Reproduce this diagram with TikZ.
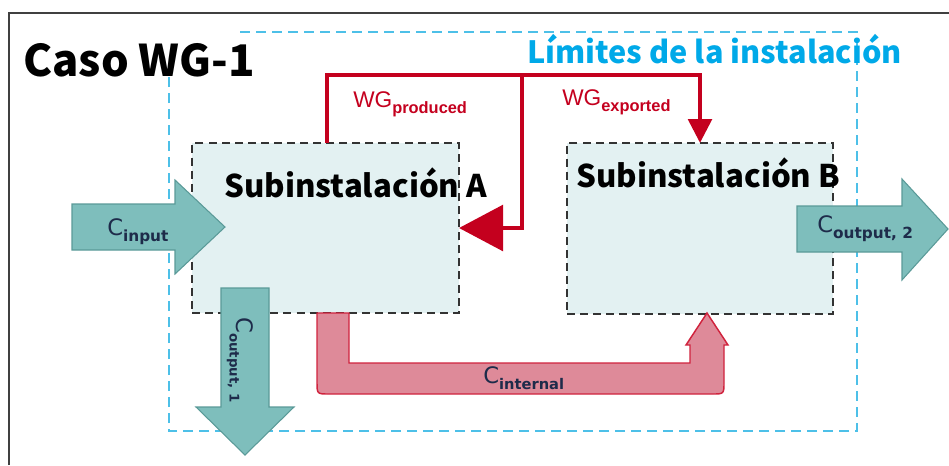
\documentclass[tikz,border=0pt]{standalone}
\usepackage{fontspec}
\usepackage{graphicx}
\setmainfont{Liberation Sans}
\newfontfamily\jpfont{Noto Sans CJK JP}
\newfontfamily\dvfont{DejaVu Sans}
\usetikzlibrary{arrows.meta}
\definecolor{tealfill}{HTML}{7EBEBC}
\definecolor{tealline}{HTML}{5A9A98}
\definecolor{pinkfill}{HTML}{DE8A99}
\definecolor{pinkline}{HTML}{D0233D}
\definecolor{wgred}{HTML}{C4001E}
\definecolor{cyanline}{HTML}{4DC0E8}
\definecolor{cyantext}{HTML}{00A9E8}
\definecolor{boxfill}{HTML}{E3F1F2}
\definecolor{boxline}{HTML}{333333}
\definecolor{navy}{HTML}{1E2B4A}
\newcommand{\clab}[3]{{\dvfont\fontsize{17}{17}\selectfont C}\raisebox{-5pt}{\dvfont\bfseries\fontsize{#3}{#3}\selectfont #1#2}}
\newcommand{\wglab}[1]{{\fontsize{17}{17}\selectfont WG}\raisebox{-5pt}{\bfseries\fontsize{12.3}{12.3}\selectfont #1}}
\begin{document}
\begin{tikzpicture}[x=0.75pt,y=-0.75pt,
  frame/.style={draw=black!75,line width=1.5pt},
  limits/.style={draw=cyanline,line width=1.5pt,dash pattern=on 7.5pt off 4.5pt},
  subbox/.style={draw=boxline,fill=boxfill,line width=1.4pt,dash pattern=on 6pt off 3.8pt,inner sep=0pt,outer sep=0pt},
  boxlabel/.style={font=\jpfont\bfseries\fontsize{23.4}{23.4}\selectfont,text=black,inner sep=0pt},
  titlelab/.style={font=\jpfont\bfseries\fontsize{32.7}{32.7}\selectfont,text=black,inner sep=0pt},
  limitlab/.style={font=\jpfont\bfseries\fontsize{23}{23}\selectfont,text=cyantext,inner sep=0pt},
  wg/.style={draw=wgred,line width=3.6pt},
  wgtext/.style={text=wgred,inner sep=0pt},
  tealarrow/.style={draw=tealline,fill=tealfill,line width=0.8pt},
  pinkarrow/.style={draw=pinkline,fill=pinkfill,line width=1.1pt},
  ctext/.style={text=navy,inner sep=0pt}
]
\useasboundingbox (0,0) rectangle (949,465);
% outer frame
\draw[frame] (9,465) -- (9,13) -- (949,13);
% installation limits
\draw[limits] (240,32) -- (857,32) -- (857,431) -- (169,431) -- (169,77);
% sub-installations
\node[subbox,minimum width=200.25pt,minimum height=127.5pt] (A) at (325.5,228) {};
\node[subbox,minimum width=199.5pt,minimum height=128.25pt] (B) at (700,228.5) {};
% WG connectors
\coordinate (J) at (522,75);
\draw[wg,-{Triangle[length=18pt,width=17.5pt]}] (A.north -| 327,0) -- (327,75) -| (B.north);
\draw[wg,-{Triangle[length=33pt,width=34pt]}] (J) |- (A.east);
% teal arrows
\draw[tealarrow] (72,204) -- (175,204) -- (175,180) -- (225,227) -- (175,274) -- (175,250) -- (72,250) -- cycle;
\draw[tealarrow] (221,288) -- (269,288) -- (269,407) -- (294,407) -- (245,455) -- (196,407) -- (221,407) -- cycle;
\draw[tealarrow] (797,206) -- (902,206) -- (902,179) -- (948,229) -- (902,280) -- (902,252) -- (797,252) -- cycle;
% internal pink arrow
\draw[pinkarrow] (317,313) -- (317,382) .. controls (317,394) .. (329,394) -- (712,394) .. controls (724,394) .. (724,382) -- (724,345) -- (728,345) -- (707,313) -- (686,345) -- (690,345) -- (690,363) -- (349,363) -- (349,313) -- cycle;
% labels
\node[boxlabel,anchor=base west] (Alab) at (224,197) {Subinstalación A};
\node[boxlabel,anchor=base west] (Blab) at (576,187) {Subinstalación B};
\node[titlelab,anchor=base west] (T) at (23,76) {Caso WG-1};
\node[limitlab,anchor=base west] (L) at (527,63) {Límites de la instalación};
\node[wgtext,anchor=base west] (wgp) at (353,107) {\wglab{produced}};
\node[wgtext,anchor=base west] (wge) at (562,105) {\wglab{exported}};
\node[ctext,anchor=base west] (cin) at (107,235) {\clab{input}{}{11.5}};
\node[ctext,anchor=base west] (cout2) at (817,232) {\clab{output, 2}{}{11.5}};
\node[ctext,anchor=base west] (cint) at (483,383) {\clab{internal}{}{11}};
\node[ctext,rotate=-90,anchor=center] (cout1) at (240,360) {\clab{output, 1}{}{10}};
\end{tikzpicture}
\end{document}
